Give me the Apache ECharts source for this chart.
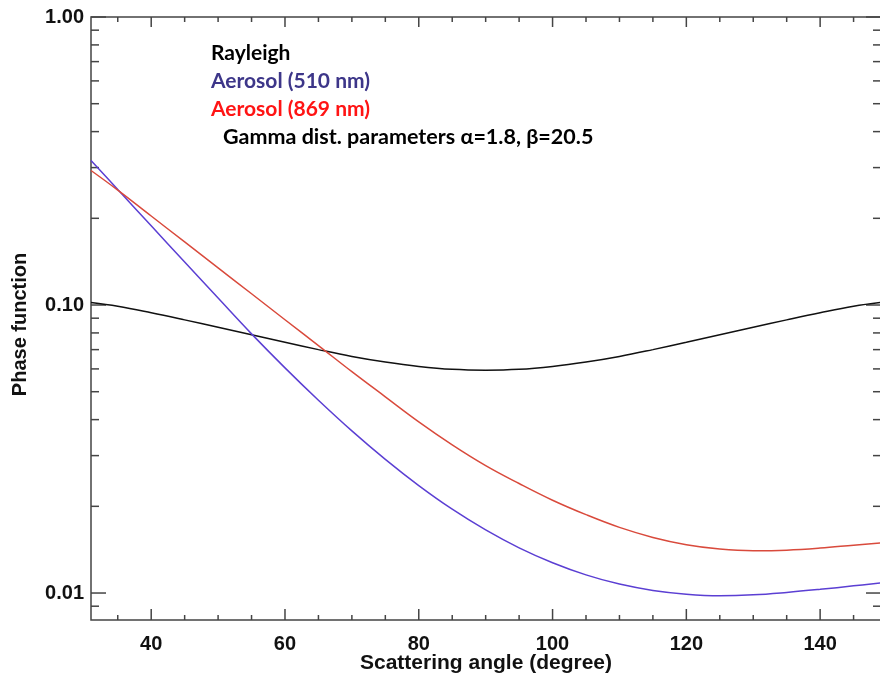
<!DOCTYPE html>
<html><head><meta charset="utf-8">
<script src="https://cdn.jsdelivr.net/npm/echarts@6/dist/echarts.min.js"></script>
<style>html,body{margin:0;padding:0;background:#fff}#c{width:880px;height:675px}</style>
</head><body><div id="c"></div>
<script>
// Scattering angle (degree)
const angles = [31,35,40,45,50,55,60,65,70,75,80,85,90,95,100,105,110,115,120,125,130,135,140,145,149];
// Phase function values
const rayleigh = [0.102,0.0990,0.0940,0.0888,0.0837,0.0788,0.0742,0.0700,0.0663,0.0634,0.0612,0.0598,0.0594,0.0598,0.0612,0.0634,0.0663,0.0700,0.0742,0.0788,0.0837,0.0888,0.0940,0.0990,0.102];
const aerosol510 = [0.3177,0.2518,0.1884,0.1410,0.1057,0.0794,0.0605,0.0467,0.03655,0.0291,0.0236,0.01954,0.01656,0.01435,0.01274,0.01156,0.01074,0.01021,0.00991,0.00979,0.00986,0.01005,0.01030,0.01059,0.01084];
const aerosol869 = [0.2931,0.2506,0.2037,0.1656,0.1346,0.1094,0.0889,0.0723,0.0587,0.0480,0.0393,0.0327,0.0277,0.0240,0.0210,0.01871,0.01690,0.01560,0.01472,0.01422,0.01403,0.01409,0.01432,0.01466,0.01493];
// Axis ticks
const xTickLabels = [40,60,80,100,120,140];
const xMinorTicks = [35,45,50,55,65,70,75,85,90,95,105,110,115,125,130,135,145];
const yTickLabels = [0.01,0.1,1];
const yMinorTicks = [0.009,0.02,0.03,0.04,0.05,0.06,0.07,0.08,0.09,0.2,0.3,0.4,0.5,0.6,0.7,0.8,0.9];
// Annotation texts
const legendLines = ['Rayleigh','Aerosol (510 nm)','Aerosol (869 nm)','Gamma dist. parameters \u03b1=1.8, \u03b2=20.5'];

const X0 = 31, X1 = 149.1, Y0 = 0.00806, Y1 = 1;
const AXC = '#444';
const LAB = {fontFamily:'Liberation Sans', fontWeight:'bold', fontSize:20, color:'#111'};

const chart = echarts.init(document.getElementById('c'), null, {renderer:'canvas'});

const zip = ys => angles.map((a,i)=>[a, ys[i]]);

const xTickData = xTickLabels.map(v=>[v,0.1,1]).concat(xMinorTicks.map(v=>[v,0.1,0]));
const yTickData = yTickLabels.map(v=>[90,v,1]).concat(yMinorTicks.map(v=>[90,v,0]));

function ln(x1,y1,x2,y2){return {type:'line',shape:{x1,y1,x2,y2},style:{stroke:AXC,lineWidth:1.5}};}

chart.setOption({
  animation:false,
  grid:{left:91,right:-1,top:17,bottom:55,containLabel:false,outerBoundsMode:'none',show:true,borderColor:AXC,borderWidth:1.5,backgroundColor:'transparent'},
  xAxis:{type:'value',min:X0,max:X1,
    axisLine:{show:false},axisTick:{show:false},splitLine:{show:false},
    axisLabel:Object.assign({customValues:xTickLabels,margin:14},LAB),
    name:'Scattering angle (degree)',nameLocation:'middle',nameGap:33,nameMoveOverlap:false,
    nameTextStyle:{fontFamily:'Liberation Sans',fontWeight:'bold',fontSize:21,color:'#111'}},
  yAxis:{type:'log',logBase:10,min:Y0,max:Y1,
    axisLine:{show:false},axisTick:{show:false},splitLine:{show:false},minorTick:{show:false},
    axisLabel:Object.assign({margin:7,formatter:v=>{const l=Math.log10(v);return Math.abs(l-Math.round(l))<1e-6? v.toFixed(2):'';}},LAB),
    name:'Phase function',nameLocation:'middle',nameGap:61,
    nameTextStyle:{fontFamily:'Liberation Sans',fontWeight:'bold',fontSize:20,color:'#111',padding:[0,12,0,0]}},
  graphic:[
    {type:'text',x:211,y:53,style:{text:legendLines[0],fill:'#000',font:'bold 21px Lato',verticalAlign:'middle'}},
    {type:'text',x:211,y:81,style:{text:legendLines[1],fill:'#3d3689',font:'bold 21px Lato',verticalAlign:'middle'}},
    {type:'text',x:211,y:109,style:{text:legendLines[2],fill:'#ff1414',font:'bold 21px Lato',verticalAlign:'middle'}},
    {type:'text',x:223,y:137,style:{text:legendLines[3],fill:'#000',font:'bold 21.5px Lato',verticalAlign:'middle'}}
  ],
  series:[
    {type:'custom',silent:true,clip:false,data:xTickData,encode:{x:0,y:1},
      renderItem:(p,api)=>{const x=api.value(0),mj=api.value(2);const b=api.coord([x,Y0]),t=api.coord([x,Y1]);
        return {type:'group',children:[ln(b[0],b[1],b[0],b[1]-(mj?11:5)),ln(t[0],t[1],t[0],t[1]+(mj?10:5))]};}},
    {type:'custom',silent:true,clip:false,data:yTickData,encode:{x:0,y:1},
      renderItem:(p,api)=>{const y=api.value(1),mj=api.value(2);const l=api.coord([X0,y]),r=api.coord([X1,y]);
        return {type:'group',children:[ln(l[0],l[1],l[0]+(mj?15:8),l[1]),ln(r[0],r[1],r[0]-(mj?15:8),r[1])]};}},
    {name:'Rayleigh',type:'line',data:zip(rayleigh),showSymbol:false,smooth:0.4,lineStyle:{color:'#111',width:1.5}},
    {name:'Aerosol (510 nm)',type:'line',data:zip(aerosol510),showSymbol:false,smooth:0.4,lineStyle:{color:'#5b3fd3',width:1.5}},
    {name:'Aerosol (869 nm)',type:'line',data:zip(aerosol869),showSymbol:false,smooth:0.4,lineStyle:{color:'#d94a3c',width:1.5}}
  ]
});
</script></body></html>
